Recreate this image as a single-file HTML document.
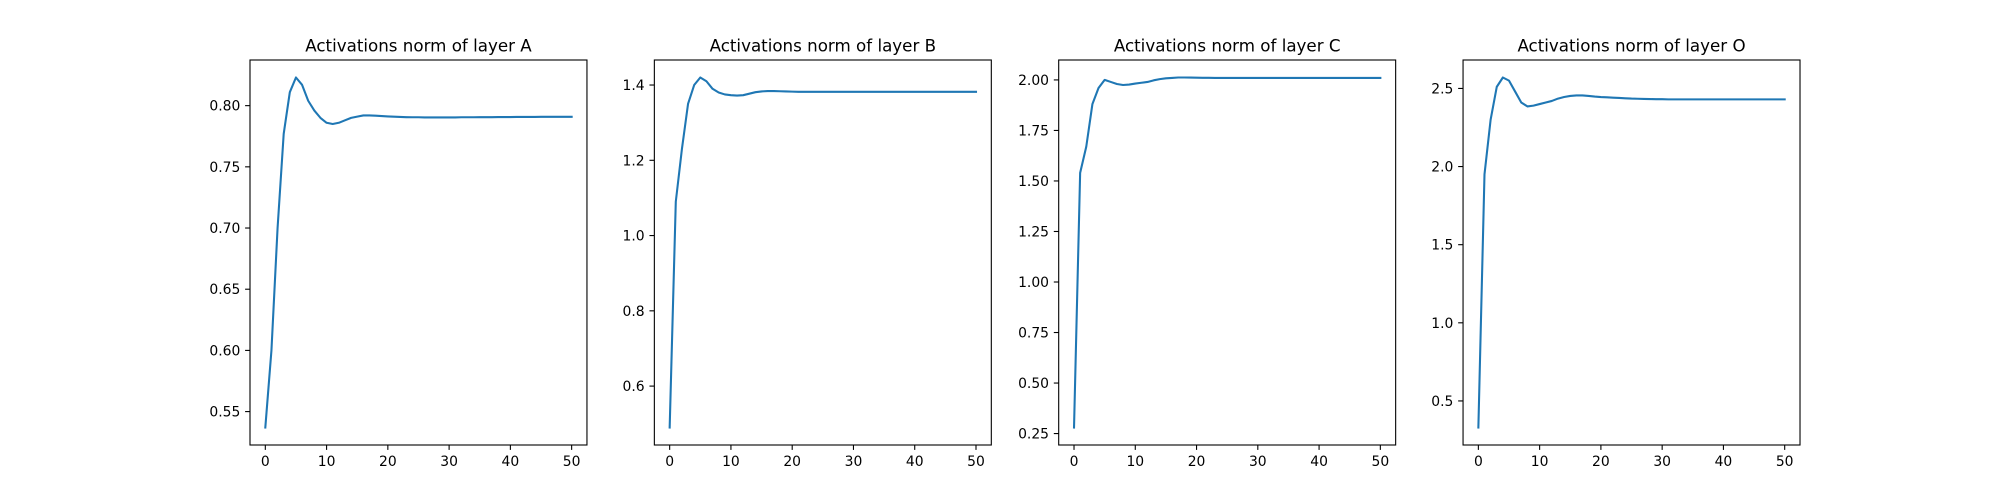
<!DOCTYPE html>
<html><head><meta charset="utf-8">
<style>
html,body{margin:0;padding:0;background:#fff;}
svg{display:block;font-family:"DejaVu Sans","Liberation Sans",sans-serif;}
</style></head>
<body>
<svg id="fig" width="2000" height="500" viewBox="0 0 2000 500"></svg>
<script>
const xs = [0,1,2,3,4,5,6,7,8,9,10,11,12,13,14,15,16,17,18,19,20,21,22,23,24,25,26,27,28,29,30,31,32,33,34,35,36,37,38,39,40,41,42,43,44,45,46,47,48,49,50];
const seriesA = [0.537,0.600,0.700,0.777,0.811,0.823,0.817,0.804,0.796,0.790,0.786,0.785,0.786,0.788,0.790,0.791,0.792,0.792,0.7918,0.7915,0.7912,0.791,0.7908,0.7906,0.7905,0.7905,0.7904,0.7904,0.7904,0.7904,0.7904,0.7904,0.7905,0.7905,0.7905,0.7906,0.7906,0.7906,0.7907,0.7907,0.7907,0.7908,0.7908,0.7908,0.7908,0.7909,0.7909,0.7909,0.7909,0.7909,0.7909];
const seriesB = [0.49,1.09,1.23,1.35,1.40,1.42,1.41,1.39,1.38,1.375,1.373,1.372,1.373,1.377,1.381,1.383,1.384,1.384,1.3835,1.383,1.3825,1.382,1.382,1.382,1.382,1.382,1.382,1.382,1.382,1.382,1.382,1.382,1.382,1.382,1.382,1.382,1.382,1.382,1.382,1.382,1.382,1.382,1.382,1.382,1.382,1.382,1.382,1.382,1.382,1.382,1.382];
const seriesC = [0.28,1.54,1.67,1.88,1.96,2.00,1.99,1.98,1.975,1.977,1.982,1.986,1.99,1.998,2.004,2.008,2.01,2.012,2.012,2.0115,2.011,2.0105,2.0105,2.01,2.01,2.01,2.01,2.01,2.01,2.01,2.01,2.01,2.01,2.01,2.01,2.01,2.01,2.01,2.01,2.01,2.01,2.01,2.01,2.01,2.01,2.01,2.01,2.01,2.01,2.01,2.01];
const seriesO = [0.33,1.95,2.30,2.51,2.57,2.55,2.48,2.41,2.385,2.39,2.40,2.41,2.42,2.435,2.445,2.452,2.455,2.455,2.452,2.448,2.445,2.443,2.441,2.439,2.437,2.435,2.434,2.433,2.432,2.431,2.431,2.430,2.430,2.430,2.430,2.430,2.430,2.430,2.430,2.430,2.430,2.430,2.430,2.430,2.430,2.430,2.430,2.430,2.430,2.430,2.430];
const titles = ["Activations norm of layer A","Activations norm of layer B","Activations norm of layer C","Activations norm of layer O"];
const xTicks = [0,10,20,30,40,50];
const yTicksA = [0.55,0.60,0.65,0.70,0.75,0.80];
const yTicksB = [0.6,0.8,1.0,1.2,1.4];
const yTicksC = [0.25,0.50,0.75,1.00,1.25,1.50,1.75,2.00];
const yTicksO = [0.5,1.0,1.5,2.0,2.5];
const yDecimals = [2,1,2,1];

(function(){
const NS="http://www.w3.org/2000/svg";
const svg=document.getElementById('fig');
function mk(tag,attrs,parent){const e=document.createElementNS(NS,tag);for(const k in attrs)e.setAttribute(k,attrs[k]);(parent||svg).appendChild(e);return e;}

const series=[seriesA,seriesB,seriesC,seriesO];
const yTicksAll=[yTicksA,yTicksB,yTicksC,yTicksO];
const names=['a','b','c','o'];
const axW=336.96, gap=67.39, axTop=60, axBottom=445;
series.forEach((ys,i)=>{
  const left=250+i*(axW+gap);
  const g=mk('g',{});
  
  
  const xmin=Math.min(...xs), xmax=Math.max(...xs), xr=xmax-xmin;
  const ymin=Math.min(...ys), ymax=Math.max(...ys), yr=ymax-ymin;
  const x0=xmin-0.05*xr, x1=xmax+0.05*xr, y0=ymin-0.05*yr, y1=ymax+0.05*yr;
  const sx=v=>left+(v-x0)/(x1-x0)*axW;
  const sy=v=>axBottom-(v-y0)/(y1-y0)*(axBottom-axTop);
  const d=xs.map((x,k)=>(k?'L':'M')+sx(x).toFixed(2)+' '+sy(ys[k]).toFixed(2)).join(' ');
  const p=mk('path',{d:d,fill:'none',stroke:'#1f77b4','stroke-width':2.08,'stroke-linejoin':'round','stroke-linecap':'square'},g);
  
  
  const r=mk('rect',{x:left,y:axTop,width:axW,height:axBottom-axTop,fill:'none',stroke:'#000','stroke-width':1.1},g);
  
  
  xTicks.forEach(t=>{
    const X=sx(t);
    mk('line',{x1:X,x2:X,y1:axBottom,y2:axBottom+4.9,stroke:'#000','stroke-width':1.1},g);
    const tx=mk('text',{x:X,y:axBottom+21,'text-anchor':'middle','font-size':13.9,fill:'#000'},g);
    tx.textContent=String(t);
    
    
  });
  yTicksAll[i].forEach(t=>{
    const Y=sy(t);
    mk('line',{x1:left-4.9,x2:left,y1:Y,y2:Y,stroke:'#000','stroke-width':1.1},g);
    const ty=mk('text',{x:left-9.7,y:Y+5,'text-anchor':'end','font-size':13.9,fill:'#000'},g);
    ty.textContent=t.toFixed(yDecimals[i]);
    
    
  });
  const tt=mk('text',{x:left+axW/2,y:axTop-8.5,'text-anchor':'middle','font-size':16.7,fill:'#000'},g);
  tt.textContent=titles[i];
  
  
});
})();
</script>
</body></html>
